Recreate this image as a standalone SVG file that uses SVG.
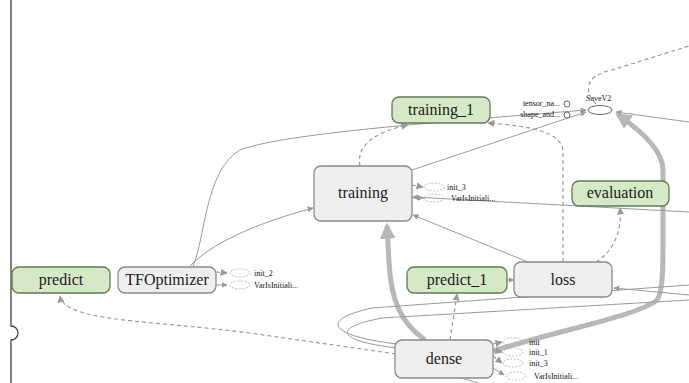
<svg xmlns="http://www.w3.org/2000/svg" width="689" height="383" viewBox="0 0 689 383">
<style>
.g rect{fill:#d6e9c6;stroke:#5f7a52;stroke-width:1.3}
.n rect{fill:#efefef;stroke:#8a8a8a;stroke-width:1.3}
text{font-family:"Liberation Serif","Times New Roman","DejaVu Serif",serif}
.t{font-size:16px;fill:#1a1a1a;text-anchor:middle}
.s{font-size:8px;fill:#111}
.e{fill:none;stroke:#9a9a9a;stroke-width:1}
.d{fill:none;stroke:#9a9a9a;stroke-width:1.2;stroke-dasharray:4 3}
.k{fill:none;stroke:#b8b8b8;stroke-width:5}
.el{fill:none;stroke:#aaa;stroke-width:0.8;stroke-dasharray:2 1.5}
</style>
<defs>
<marker id="a" viewBox="0 0 10 10" refX="9" refY="5" markerWidth="6" markerHeight="6" orient="auto-start-reverse"><path d="M0,0L10,5L0,10z" fill="#9a9a9a"/></marker>
<marker id="ak" viewBox="0 0 10 10" refX="8" refY="5" markerWidth="3.2" markerHeight="3.2" orient="auto"><path d="M0,0L10,5L0,10z" fill="#b8b8b8"/></marker>
</defs>
<rect width="689" height="383" fill="#fff"/>
<path d="M11,0V326A7,7 0 0 1 11,340V383" fill="none" stroke="#444" stroke-width="1.3"/>
<g id="edges">
<path class="d" d="M596,104C584,92 584,76 612,70L689,46"/>
<path class="k" d="M493,351C560,330 640,315 657,300C664,290 663,260 663,210L663,170C663,150 640,130 618,115" marker-end="url(#ak)"/>
<path class="e" d="M689,122L616,112" marker-end="url(#a)"/>
<path class="e" d="M412,170L586,112" marker-end="url(#a)"/>
<path class="e" d="M193,266C205,240 205,170 240,150C280,135 400,125 586,110" marker-end="url(#a)"/>
<path class="e" d="M190,266C210,245 250,225 313,208" marker-end="url(#a)"/>
<path class="d" d="M360,166C356,145 375,132 408,125" marker-end="url(#a)"/>
<path class="d" d="M563,262L563,152C563,132 530,126 488,123" marker-end="url(#a)"/>
<path class="d" d="M596,262C615,250 622,230 620,208" marker-end="url(#a)"/>
<path class="e" d="M689,212L413,197" stroke-width="2" marker-end="url(#a)"/>
<path class="e" d="M528,262L413,215" marker-end="url(#a)"/>
<path class="k" d="M425,340C400,322 391,300 389,262L387,226" marker-end="url(#ak)"/>
<path class="d" d="M450,340L457,294" marker-end="url(#a)"/>
<path class="d" d="M396,354L250,333C150,320 64,322 60,296" marker-end="url(#a)"/>
<path class="e" d="M397,344C330,336 318,320 372,308L689,285"/>
<path class="e" d="M397,348C338,341 330,328 382,318L689,300"/>
<path class="e" d="M689,295L614,288" marker-end="url(#a)"/>
<path class="e" d="M507,280L514,280" marker-end="url(#a)"/>
<path class="e" d="M462,378L478,383"/>
<path class="d" d="M216,272L227,273" stroke-width="0.8" marker-end="url(#a)"/>
<path class="e" d="M216,285L227,285" marker-end="url(#a)"/>
<path class="d" d="M412,185L423,187" stroke-width="0.8" marker-end="url(#a)"/>
<path class="e" d="M412,198L423,198" stroke-width="1.5" marker-end="url(#a)"/>
<path class="d" d="M493,344L502,342" stroke-width="0.8" marker-end="url(#a)"/>
<path class="d" d="M493,350L502,352" stroke-width="0.8" marker-end="url(#a)"/>
<path class="d" d="M493,356L502,363" stroke-width="0.8" marker-end="url(#a)"/>
<path class="e" d="M490,366L504,375" marker-end="url(#a)"/>
</g>
<g id="predict" class="g"><rect x="12" y="267" width="98" height="26" rx="7"/><text class="t" x="61" y="285">predict</text></g>
<g id="TFOptimizer" class="n"><rect x="118" y="267" width="98" height="26" rx="7"/><text class="t" x="167" y="285">TFOptimizer</text></g>
<g id="training_1" class="g"><rect x="392" y="97" width="98" height="26" rx="7"/><text class="t" x="441" y="115">training_1</text></g>
<g id="training" class="n"><rect x="314" y="166" width="98" height="55" rx="7"/><text class="t" x="363" y="198">training</text></g>
<g id="evaluation" class="g"><rect x="572" y="181" width="97" height="25" rx="7"/><text class="t" x="620" y="198">evaluation</text></g>
<g id="predict_1" class="g"><rect x="407" y="267" width="100" height="26" rx="7"/><text class="t" x="457" y="285">predict_1</text></g>
<g id="loss" class="n"><rect x="514" y="262" width="98" height="35" rx="7"/><text class="t" x="563" y="285">loss</text></g>
<g id="dense" class="n"><rect x="395" y="340" width="98" height="38" rx="7"/><text class="t" x="444" y="364">dense</text></g>
<g id="SaveV2"><ellipse cx="600" cy="110" rx="12" ry="4.5" fill="#fff" stroke="#666" stroke-width="1"/><text class="s" x="586" y="101">SaveV2</text>
<circle cx="567" cy="104" r="3" fill="#fff" stroke="#666"/><circle cx="567" cy="115" r="3" fill="#fff" stroke="#666"/>
<text class="s" x="560" y="106" text-anchor="end">tensor_na...</text><text class="s" x="560" y="117" text-anchor="end">shape_and...</text></g>
<g id="tf_aux"><ellipse class="el" cx="240" cy="273" rx="10" ry="4"/><text class="s" x="254" y="276">init_2</text>
<ellipse class="el" cx="240" cy="285" rx="10" ry="4"/><text class="s" x="254" y="288">VarIsInitiali...</text></g>
<g id="training_aux"><ellipse class="el" cx="434" cy="187" rx="10" ry="4"/><text class="s" x="447" y="190">init_3</text>
<ellipse class="el" cx="434" cy="198" rx="10" ry="4"/><text class="s" x="451" y="201">VarIsInitiali...</text></g>
<g id="dense_aux"><ellipse class="el" cx="513" cy="342" rx="10" ry="4"/><text class="s" x="529" y="345">init</text>
<ellipse class="el" cx="513" cy="352" rx="10" ry="4"/><text class="s" x="529" y="355">init_1</text>
<ellipse class="el" cx="513" cy="363" rx="10" ry="4"/><text class="s" x="529" y="366">init_3</text>
<ellipse class="el" cx="516" cy="376" rx="10" ry="4"/><text class="s" x="534" y="379">VarIsInitiali...</text></g>
</svg>
